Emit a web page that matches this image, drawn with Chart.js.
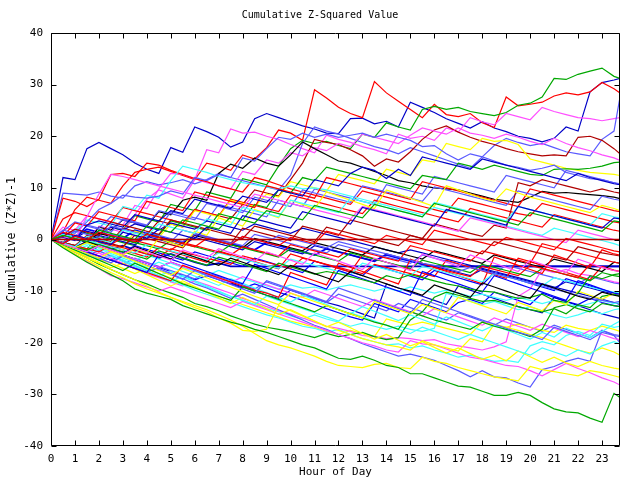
<!DOCTYPE html>
<html>
<head>
  <title>Cumulative Z-Squared Value</title>
  <script src="https://cdn.jsdelivr.net/npm/chart.js"></script>
  <style>body { margin: 0; background: #fff; }</style>
</head>
<body>
  <canvas id="chart" width="640" height="480"></canvas>

  <script>
    // Time of day (hours), read every half hour plus the last quarter
    const hours = [0,0.5,1,1.5,2,2.5,3,3.5,4,4.5,5,5.5,6,6.5,7,7.5,8,8.5,9,9.5,10,10.5,11,11.5,
      12,12.5,13,13.5,14,14.5,15,15.5,16,16.5,17,17.5,18,18.5,19,19.5,20,20.5,21,21.5,22,22.5,23,23.5,23.75];
    const xTicks = [0,1,2,3,4,5,6,7,8,9,10,11,12,13,14,15,16,17,18,19,20,21,22,23];
    const yTicks = [-40,-30,-20,-10,0,10,20,30,40];

    // Series (cumulative z*z-1 at each time)
    const topNavy = [0,12.0,11.6,17.6,18.8,17.6,16.4,14.8,13.6,12.8,17.8,16.9,21.8,20.9,19.8,17.9,18.9,23.4,24.4,23.6,22.8,22.0,21.4,20.6,20.5,23.4,23.5,22.4,22.9,21.8,26.6,25.6,24.6,23.4,22.5,21.6,22.8,21.6,20.9,20.0,19.6,18.9,19.6,21.8,21.0,28.6,30.4,30.9,31.2];
    const topRed = [0,1.5,5.8,8.2,7.6,7.0,10.4,13.0,13.6,14.0,13.2,12.4,11.6,14.8,14.2,13.4,16.4,15.6,17.8,21.2,20.6,19.2,29.0,27.4,25.6,24.4,23.6,30.6,28.4,26.8,25.2,23.6,26.2,24.2,23.8,24.4,22.6,21.7,27.6,25.9,26.2,26.6,27.8,28.4,28.0,28.6,30.4,29.2,28.4];
    const topGreen = [0,-0.6,1.8,1.2,0.6,2.4,1.8,4.6,4.0,3.4,6.8,6.2,5.6,9.2,8.6,8.0,11.8,11.2,10.6,14.2,17.6,19.2,18.6,19.0,18.2,17.6,20.4,19.8,22.6,21.8,21.2,25.2,25.8,25.2,25.6,24.8,24.4,24.0,24.6,26.0,26.4,27.6,31.2,31.0,32.0,32.6,33.2,31.6,31.2];
    const pinkHigh = [0,0.8,0.2,-0.4,2.6,2.0,1.4,4.8,7.8,9.6,8.8,8.0,11.6,17.4,16.8,21.4,20.6,20.8,20.0,19.4,18.4,17.6,16.8,20.2,19.4,18.8,18.0,17.4,16.6,20.4,19.6,20.0,19.2,21.6,20.8,23.6,22.8,22.2,24.4,23.8,23.2,25.6,24.8,24.2,23.6,23.4,23.0,23.4,23.6];
    const lateJumpBlue = [0,9.0,8.8,8.6,9.2,8.4,8.0,10.4,11.2,10.6,11.0,11.6,10.8,11.6,12.8,12.0,11.4,10.8,10.2,9.6,12.4,18.6,21.8,21.0,20.4,19.6,18.8,18.0,17.4,16.6,17.8,17.0,16.2,15.4,14.6,13.8,16.0,18.2,19.6,18.8,18.2,18.6,17.8,17.0,16.6,16.2,19.4,21.0,27.6];
    const maroonHigh = [0,-0.6,-1.2,0.8,0.2,-0.4,2.2,1.6,1.0,3.6,3.0,2.4,5.8,5.2,4.6,4.0,6.8,9.6,9.0,8.4,11.6,14.8,19.4,18.8,18.4,17.4,16.2,14.2,15.6,15.0,17.0,19.4,21.2,22.0,20.8,19.8,19.0,18.4,17.6,17.0,16.6,16.2,16.4,16.2,19.8,20.0,19.2,17.6,16.6];
    const blackHigh = [0,0.6,0.0,-0.6,2.4,1.8,3.8,3.2,2.6,5.4,4.8,7.6,8.2,7.6,12.8,14.6,13.8,15.8,14.8,14.2,16.4,18.9,17.6,16.4,15.2,14.8,14.0,13.2,12.4,11.4,11.0,10.4,10.0,9.8,9.6,9.0,8.4,7.8,7.5,7.2,8.2,9.3,9.0,9.1,8.9,8.7,8.5,8.2,7.9];
    const pinkUpper = [0,2.4,1.8,4.6,4.0,3.4,2.8,6.6,6.0,9.8,12.8,12.6,11.8,11.0,10.4,9.8,13.2,12.6,15.4,14.8,16.8,16.2,17.8,17.2,18.6,18.0,20.4,19.8,19.2,18.6,20.2,21.6,21.0,20.4,21.6,20.6,20.2,19.6,20.4,19.8,19.0,18.4,19.6,18.6,17.8,17.2,16.4,15.8,15.3];
    const yellowUpper = [0,-0.8,-1.4,-2.0,-0.4,-1.0,-1.6,1.6,1.0,0.4,3.0,2.4,5.6,5.0,4.4,7.6,7.0,6.4,8.8,8.2,11.2,10.6,10.0,9.4,12.6,12.0,11.4,10.8,13.6,13.0,12.4,15.4,15.0,18.6,18.0,17.4,19.6,19.0,19.2,18.4,15.6,15.0,14.4,13.8,13.4,13.0,12.8,12.6,12.4];
    const redEarly = [0,8.0,7.4,6.4,7.8,12.6,12.8,12.2,14.8,14.4,13.4,12.6,11.8,11.2,10.4,9.8,9.2,12.0,11.4,10.6,9.8,9.2,8.6,8.0,7.4,6.8,9.4,8.8,8.2,7.6,7.0,6.4,5.8,5.2,8.0,7.4,6.8,6.2,5.6,5.0,4.6,7.0,6.4,5.8,5.2,4.6,4.0,3.4,3.2];
    const redLow5 = [0,4.0,5.2,4.6,4.0,3.4,6.2,5.6,5.0,4.4,3.8,3.2,5.8,5.2,4.6,7.8,7.2,6.6,6.0,5.4,8.6,8.0,7.4,6.8,6.2,5.6,5.0,7.6,7.0,6.4,5.8,5.2,4.6,4.0,3.4,6.0,5.4,4.8,4.2,3.6,3.0,2.4,4.8,4.2,3.6,3.0,2.4,1.8,1.6];
    const lblueMid = [0,1.6,3.4,2.8,2.2,4.4,3.8,3.2,2.6,2.0,5.4,4.8,4.2,3.6,6.8,6.2,5.6,5.0,4.4,7.6,7.0,6.4,9.8,9.2,8.6,8.0,7.4,6.8,10.6,10.0,9.4,8.8,12.2,11.6,11.0,10.4,9.8,9.2,12.4,11.8,11.2,10.6,10.0,13.4,12.8,12.2,11.6,11.0,10.6];
    const cyanHigh = [0,-0.7,1.6,3.8,3.2,2.6,6.4,5.8,8.6,8.0,11.4,14.2,13.6,13.0,12.2,11.6,11.0,10.6,10.2,9.8,10.4,9.8,10.0,9.6,9.0,8.4,7.8,7.2,6.6,6.0,5.4,4.8,6.2,5.6,5.0,4.4,3.8,3.2,2.6,2.0,1.4,0.8,2.2,1.6,1.0,0.4,-0.2,-0.8,-1.2];
    const greenMid = [0,-0.6,-1.2,-1.8,0.6,0.0,-0.6,-1.2,1.4,0.8,3.6,3.0,2.4,1.8,5.0,4.4,3.8,6.8,6.2,9.6,9.0,12.0,11.4,14.0,13.4,12.8,12.2,11.6,11.0,10.4,9.8,12.4,12.0,11.6,14.8,14.2,13.6,14.4,13.8,13.2,12.6,12.4,13.6,13.7,13.6,13.8,14.2,14.9,15.0];

    const lowGreen = [0,-1.6,-3.0,-4.4,-5.6,-6.8,-8.0,-9.6,-10.4,-11.0,-11.6,-12.8,-13.6,-14.4,-15.2,-16.0,-16.6,-17.4,-18.0,-18.8,-19.6,-20.4,-21.0,-22.0,-23.0,-23.2,-22.6,-23.4,-24.4,-24.8,-26.0,-26.0,-26.8,-27.6,-28.4,-28.6,-29.4,-30.2,-30.2,-29.6,-30.2,-31.6,-32.8,-33.4,-33.6,-34.6,-35.4,-29.8,-30.6];
    const lowYellow = [0,-1.4,-2.8,-4.0,-5.2,-6.4,-7.4,-8.6,-9.6,-10.4,-11.2,-12.0,-12.8,-13.6,-14.6,-15.6,-16.8,-18.2,-19.6,-20.4,-21.0,-21.8,-22.6,-23.6,-24.4,-24.6,-24.8,-24.2,-24.0,-24.8,-25.0,-22.8,-23.6,-24.0,-24.8,-25.4,-26.0,-26.6,-27.0,-27.4,-24.6,-25.2,-25.6,-26.0,-26.4,-25.4,-25.8,-26.4,-26.7];
    const yellowJump = [0,-1.2,-2.4,-3.6,-4.6,-5.8,-6.8,-7.8,-9.0,-10.2,-11.2,-12.2,-13.2,-14.0,-15.2,-16.2,-17.6,-17.8,-17.4,-12.8,-13.8,-14.8,-15.8,-16.8,-17.6,-18.4,-19.2,-19.8,-20.4,-20.8,-21.4,-19.6,-20.4,-21.0,-21.6,-19.2,-19.8,-16.4,-17.0,-17.6,-18.4,-19.0,-19.8,-20.6,-21.4,-22.0,-21.0,-21.8,-22.4];
    const lowPink = [0,-1.4,-2.8,-4.2,-5.6,-7.0,-7.6,-8.4,-9.2,-10.0,-9.2,-10.0,-10.8,-11.6,-12.4,-13.2,-12.0,-12.8,-13.6,-14.4,-15.2,-16.0,-16.8,-17.6,-18.4,-19.2,-20.0,-20.6,-21.4,-21.8,-19.6,-20.2,-20.4,-21.2,-22.0,-22.8,-23.2,-23.8,-24.4,-24.6,-25.4,-26.4,-25.2,-24.0,-25.0,-25.8,-26.8,-27.6,-28.2];
    const lowLblue = [0,-1.0,-2.0,-3.0,-2.2,-3.2,-4.2,-5.2,-6.2,-5.6,-6.6,-7.6,-8.6,-9.4,-10.4,-11.4,-10.6,-11.6,-12.6,-13.6,-14.6,-15.6,-16.6,-17.4,-18.4,-19.2,-20.2,-21.0,-21.8,-22.6,-22.2,-22.8,-23.4,-24.4,-25.4,-26.6,-25.4,-26.6,-26.8,-27.8,-28.6,-25.2,-24.6,-23.6,-23.0,-23.6,-17.6,-18.6,-20.0];
    const greenJump = [0,-1.2,-2.4,-3.6,-4.8,-5.8,-6.8,-7.8,-8.6,-9.6,-10.4,-11.2,-12.4,-13.0,-13.8,-14.8,-15.6,-16.4,-17.0,-17.4,-17.8,-18.4,-19.0,-18.2,-18.8,-18.4,-18.0,-18.8,-19.4,-19.0,-15.6,-14.0,-11.2,-10.2,-10.8,-11.4,-12.0,-11.8,-12.4,-13.0,-13.6,-14.0,-13.4,-14.4,-12.6,-13.2,-11.0,-10.6,-11.0];
    const lblueLow = [0,-1.0,-2.0,-1.2,-2.2,-3.2,-4.0,-5.0,-6.0,-7.0,-8.0,-8.8,-9.8,-10.6,-11.4,-12.2,-13.0,-13.8,-14.6,-15.2,-16.0,-16.8,-17.2,-18.0,-17.4,-18.4,-19.2,-19.8,-20.4,-20.2,-21.0,-20.6,-21.4,-22.0,-22.8,-22.4,-23.0,-23.6,-23.4,-23.8,-20.6,-19.8,-20.4,-18.6,-17.8,-18.6,-16.4,-17.0,-16.8];
    const pinkJump = [0,-1.2,-2.4,-3.4,-2.6,-3.6,-4.6,-5.6,-6.6,-7.4,-8.2,-9.0,-8.0,-8.8,-9.6,-10.4,-11.4,-12.2,-13.0,-13.8,-14.4,-15.2,-16.0,-16.8,-17.2,-17.8,-18.6,-18.8,-19.2,-19.0,-19.2,-19.6,-19.4,-20.2,-20.6,-21.0,-21.4,-20.8,-19.8,-11.0,-9.6,-5.8,-6.4,-5.8,-6.6,-7.0,-7.6,-8.2,-8.4];
    const cyanJump = [0,-1.0,-1.8,-2.8,-3.8,-3.0,-4.0,-5.0,-6.0,-7.0,-6.2,-7.2,-8.2,-9.2,-10.2,-11.0,-11.8,-12.6,-13.4,-14.0,-14.8,-15.4,-14.6,-15.4,-16.0,-16.8,-16.2,-16.8,-17.4,-16.8,-17.4,-17.8,-17.2,-10.4,-11.2,-12.0,-12.6,-12.0,-12.8,-13.6,-13.0,-13.8,-14.6,-15.2,-14.6,-13.8,-14.4,-13.6,-13.4];
    const cyanMid = [0,-0.8,-1.6,-0.8,-1.6,-2.4,-3.2,-4.0,-3.0,-3.8,-4.6,-5.4,-6.2,-7.0,-6.0,-6.8,-7.6,-8.2,-9.0,-9.6,-8.8,-9.4,-9.2,-9.8,-9.2,-8.8,-9.4,-10.0,-9.4,-10.0,-9.2,-9.8,-10.4,-9.8,-10.4,-11.0,-10.6,-11.2,-11.8,-11.2,-11.8,-12.4,-11.8,-12.4,-13.0,-12.4,-11.8,-12.4,-12.2];
    const yellowMid = [0,-0.8,-1.8,-2.8,-3.8,-4.6,-5.6,-6.6,-5.6,-6.6,-7.4,-8.4,-9.2,-10.2,-11.0,-11.8,-12.6,-13.4,-14.2,-15.0,-15.8,-16.4,-17.0,-17.8,-18.4,-17.6,-18.2,-18.8,-15.4,-16.0,-16.6,-16.0,-16.6,-17.2,-17.8,-18.4,-16.0,-16.6,-17.0,-16.4,-17.0,-17.6,-18.0,-16.6,-17.2,-17.6,-16.8,-17.4,-17.8];
    const navyLow = [0,-0.8,-1.6,-2.4,-1.4,-2.2,-3.0,-3.8,-4.6,-5.4,-4.4,-5.2,-6.0,-6.8,-7.6,-8.4,-9.2,-10.0,-10.8,-11.4,-9.8,-10.6,-11.4,-12.2,-12.8,-13.6,-14.4,-15.2,-8.6,-9.4,-10.2,-11.0,-11.8,-12.6,-9.0,-9.8,-10.6,-11.4,-12.2,-13.0,-13.6,-14.2,-11.2,-12.0,-12.8,-13.6,-14.4,-15.0,-15.3];
    const navyZig = [0,-0.8,-1.6,-2.4,-3.2,-4.0,-3.0,-3.8,-4.6,-5.4,-6.2,-7.0,-7.8,-7.0,-7.8,-8.6,-9.4,-8.6,-9.4,-10.2,-11.0,-11.8,-12.6,-13.4,-14.2,-15.0,-15.6,-12.4,-13.2,-14.0,-11.6,-12.4,-13.2,-14.0,-12.2,-11.6,-12.4,-10.2,-11.0,-11.8,-12.6,-10.4,-11.2,-12.0,-12.6,-11.4,-12.2,-12.8,-13.0];

    const zeroLine = [0,0,0,0,0,0,0,0,0,0,0,0,0,0,0,0,0,0,0,0,0,0,0,0,0,0,0,0,0,0,0,0,0,0,0,0,0,0,0,0,0,0,0,0,0,0,0,0,0];
    const flatBlueA = [0,-0.8,0.6,-0.2,-1.0,-1.8,-1.2,-2.0,-2.8,-3.6,-2.8,-3.6,-4.4,-5.0,-4.6,-5.2,-5.2,-5.2,-5.2,-5.2,-5.2,-5.2,-5.2,-5.2,-5.2,-5.2,-5.2,-5.2,-5.2,-5.2,-5.2,-5.2,-5.2,-5.2,-5.2,-5.2,-5.2,-5.2,-5.2,-5.2,-5.2,-5.2,-5.2,-5.2,-5.2,-5.2,-5.2,-5.2,-5.2];
    const flatBlueB = [0,1.2,0.6,2.0,1.4,0.8,0.2,1.8,1.2,0.6,0.0,-0.6,1.0,0.4,-0.2,-0.8,-1.4,-2.0,-0.6,-1.2,-1.8,-2.4,-3.0,-1.8,-2.4,-3.0,-3.6,-4.2,-3.0,-3.6,-4.2,-4.8,-5.2,-5.2,-5.2,-5.2,-5.2,-5.2,-5.2,-5.2,-5.2,-5.2,-5.2,-5.2,-5.2,-5.2,-5.2,-5.2,-5.2];
    const blueSlide = [0,0.8,0.2,1.6,1.0,2.4,1.8,3.0,2.4,1.8,3.2,2.6,2.0,3.6,3.0,2.4,1.8,3.0,2.4,1.8,1.2,2.2,1.6,1.0,0.4,-0.2,-0.8,-1.4,-2.0,-2.6,-2.0,-2.6,-3.2,-3.8,-4.4,-5.0,-5.6,-6.2,-6.8,-7.4,-8.0,-8.6,-9.2,-9.8,-10.4,-11.0,-11.6,-12.2,-12.6];
    const lblueSlide = [0,-0.6,0.8,0.2,-0.4,1.0,0.4,-0.2,1.4,0.8,0.2,-0.4,1.0,0.4,-0.2,-0.8,0.6,0.0,-0.6,0.8,0.2,-0.4,-1.0,-1.6,-0.4,-1.0,-1.6,-2.2,-2.8,-3.4,-4.0,-4.6,-5.0,-5.6,-6.2,-5.4,-6.0,-6.6,-7.2,-7.8,-8.4,-9.0,-9.6,-10.2,-10.8,-11.4,-11.8,-12.2,-12.0];
    const redMidA = [0,-0.8,0.6,0.0,1.4,0.8,0.2,-0.4,1.0,0.4,-0.2,-0.8,-1.4,0.2,-0.4,-1.0,0.6,0.0,-0.6,-1.2,0.4,-0.2,-0.8,1.6,1.0,0.4,-0.2,-0.8,0.8,0.2,-0.4,-1.0,1.8,1.2,0.6,0.0,-0.6,-1.2,0.4,-0.2,-0.8,-1.4,-2.0,0.2,-0.4,-1.0,-1.6,-2.2,-2.4];
    const redMidB = [0,1.4,0.8,0.2,-0.4,-1.0,0.4,-0.2,-0.8,-1.4,-2.0,-0.6,-1.2,-1.8,-2.4,-3.0,-1.4,-2.0,-2.6,-3.2,-1.0,-1.6,-2.2,-2.8,-3.4,-1.8,-2.4,-3.0,-3.6,-4.2,-1.2,-1.8,-2.4,-3.0,-3.6,-4.2,-2.2,-2.8,-3.4,-4.0,-4.6,-0.8,-1.4,-2.0,-2.6,-3.2,-3.8,-4.4,-4.6];
    const maroonMid = [0,0.6,2.0,1.4,0.8,3.4,2.8,2.2,1.6,1.0,3.8,3.2,2.6,2.0,1.4,0.8,0.2,2.6,2.0,1.4,0.8,0.2,-0.4,2.4,1.8,1.2,0.6,0.0,-0.6,-1.2,0.8,0.2,-0.4,-1.0,-1.6,-2.2,-2.8,-0.4,-1.0,-1.6,-2.2,-2.8,-3.4,-4.0,-1.4,-2.0,-2.6,-3.0,-3.2];
    const maroonJump = [0,-0.6,-1.2,0.4,-0.2,-0.8,-1.4,0.8,0.2,-0.4,-1.0,-1.6,1.0,0.4,-0.2,-0.8,2.2,1.6,1.0,0.4,-0.2,2.6,2.0,1.4,0.8,3.8,3.2,2.6,2.0,1.4,0.8,0.2,3.0,2.4,1.8,1.2,0.6,2.8,2.2,11.0,10.4,11.6,11.0,10.4,9.8,9.2,9.8,9.2,9.0];
    const blackLow = [0,-0.8,-1.6,-0.4,-1.2,-2.0,-2.8,-1.4,-2.2,-3.0,-3.8,-2.6,-3.4,-4.2,-5.0,-3.6,-4.4,-5.2,-6.0,-6.8,-5.0,-5.8,-6.6,-7.4,-8.2,-6.2,-7.0,-7.8,-8.6,-9.4,-10.0,-10.8,-8.8,-9.6,-10.4,-11.2,-8.4,-9.2,-10.0,-10.8,-11.4,-8.6,-9.4,-10.2,-11.0,-11.6,-10.2,-10.8,-11.0];
    const greenLowMid = [0,-0.7,-1.4,-2.1,-1.0,-1.7,-2.4,-3.1,-3.8,-2.2,-2.9,-3.6,-4.3,-5.0,-3.4,-4.1,-4.8,-5.5,-6.2,-4.6,-5.3,-6.0,-6.7,-6.2,-6.6,-7.2,-7.8,-8.4,-7.0,-7.6,-6.8,-7.4,-8.0,-8.6,-9.0,-9.6,-10.0,-10.2,-10.8,-11.4,-11.2,-10.6,-11.8,-12.2,-10.4,-7.0,-7.6,-6.8,-6.6];
    const pinkMid = [0,-0.8,-1.6,-2.4,-1.2,-2.0,-2.8,-1.6,-2.4,-3.2,-4.0,-2.0,-2.8,-3.6,-1.8,-2.6,-3.4,-4.2,-2.4,-3.2,-4.0,-4.8,-2.6,-3.4,-4.2,-5.0,-5.8,-3.6,-4.4,-5.2,-6.0,-2.8,-3.6,-4.4,-5.2,-3.0,-3.8,-4.6,-5.4,-6.2,-4.0,-4.8,-5.6,-6.4,-3.8,-4.6,-5.4,-6.0,-6.2];
    const cyanLowMid = [0,1.0,0.4,-0.2,-0.8,-1.4,-2.0,-2.6,-1.0,-1.6,-2.2,-2.8,-3.4,-4.0,-2.6,-3.2,-3.8,-4.4,-5.0,-5.6,-3.8,-4.4,-5.0,-5.6,-6.2,-6.8,-4.6,-5.2,-5.8,-6.4,-7.0,-5.2,-5.8,-6.4,-7.0,-7.6,-8.2,-6.6,-7.2,-7.8,-8.4,-9.0,-7.4,-8.0,-8.6,-9.2,-9.8,-10.2,-10.4];
    const lblueUpper = [0,1.8,1.2,3.4,5.8,7.0,8.6,8.2,8.0,8.4,9.4,8.8,12.0,11.4,12.6,12.0,15.8,15.2,17.6,19.8,19.4,20.6,19.8,20.4,19.8,20.2,20.6,19.8,20.4,19.8,19.2,18.0,18.2,16.6,15.4,16.6,16.0,15.2,14.4,14.0,13.4,13.8,14.4,13.0,12.4,11.8,11.6,11.0,10.8];
    const navyUpper = [0,0.4,-0.2,2.8,3.6,3.0,2.4,4.8,4.2,3.6,5.6,5.0,7.8,7.2,6.6,6.0,8.4,7.8,7.2,9.6,9.0,8.4,11.6,11.0,10.4,12.8,14.0,13.4,11.8,13.6,12.4,16.0,15.4,14.8,14.2,13.6,15.6,15.0,14.4,13.8,13.2,12.6,12.0,11.4,12.8,12.0,11.4,10.8,10.6];
    const blueMid = [0,-0.8,0.8,0.2,-0.4,-1.0,1.4,0.8,0.2,2.0,1.4,0.8,0.2,2.4,1.8,1.2,4.6,4.0,3.4,2.8,2.2,5.4,4.8,4.2,3.6,3.0,6.2,5.6,5.0,4.4,3.8,3.2,2.6,5.8,5.2,4.6,4.0,3.4,2.8,6.4,5.8,5.2,4.6,4.0,3.4,2.8,2.2,4.2,4.0];
    const redLowMid = [0,-0.6,-1.2,-1.8,-2.4,-1.0,-1.6,-2.2,-2.8,-3.4,-1.8,-2.4,-3.0,-3.6,-4.2,-4.8,-3.2,-3.8,-4.4,-5.0,-5.6,-3.6,-4.2,-4.8,-5.4,-6.0,-6.6,-4.8,-5.4,-6.0,-6.6,-7.2,-5.4,-6.0,-6.6,-7.2,-5.2,-5.8,-6.4,-7.0,-5.0,-5.6,-6.2,-6.8,-7.4,-4.8,-5.4,-6.0,-6.2];
    const greenUpper = [0,0.8,0.2,-0.4,1.8,1.2,0.6,0.0,2.6,2.0,1.4,3.8,3.2,2.6,2.0,4.4,3.8,3.2,5.6,5.0,4.4,3.8,6.6,6.0,5.4,4.8,4.2,6.8,6.2,5.6,5.0,4.4,7.0,6.4,5.8,5.2,4.6,4.0,3.4,2.8,5.2,4.6,4.0,3.4,2.8,2.2,1.6,3.6,3.4];
    const yellowUpMid = [0,-0.8,-1.6,-0.6,-1.4,-2.2,-3.0,-1.8,-2.6,0.2,-0.6,-1.4,1.6,0.8,4.2,3.4,2.6,5.8,5.0,4.2,7.6,6.8,6.0,9.2,8.4,7.6,6.8,6.0,9.6,8.8,8.0,7.2,6.4,10.4,9.6,8.8,8.0,7.4,9.8,9.0,8.2,7.6,7.0,6.4,5.8,5.2,6.6,6.0,5.6];
    const yellowLowMid = [0,-0.9,-1.8,-2.7,-3.6,-2.4,-3.3,-4.2,-5.1,-6.0,-6.9,-5.6,-6.5,-7.4,-8.3,-9.2,-10.1,-11.0,-11.8,-12.6,-10.4,-11.2,-12.0,-12.8,-13.6,-14.4,-15.2,-12.0,-12.8,-13.6,-14.4,-12.6,-13.4,-14.2,-11.2,-12.0,-12.8,-13.6,-14.4,-12.2,-13.0,-13.8,-11.8,-12.6,-10.0,-10.8,-11.6,-10.4,-10.6];
    const pinkEarly = [0,0.6,0.0,4.4,8.8,12.6,12.2,11.6,11.0,10.4,9.8,9.2,8.6,8.0,7.4,6.8,6.2,8.8,8.2,7.6,7.0,6.4,5.8,5.2,4.6,4.0,6.4,5.8,5.2,4.6,4.0,3.4,2.8,2.2,1.6,4.2,3.6,3.0,2.4,1.8,1.2,0.6,0.0,-0.6,1.8,1.2,0.6,0.0,-0.2];
    const cyanUpMid = [0,-0.7,-1.4,0.6,0.0,-0.6,1.8,1.2,0.6,3.0,2.4,1.8,1.2,4.0,3.4,2.8,6.2,5.6,5.0,4.4,7.6,7.0,6.4,5.8,5.2,8.0,7.4,6.8,6.2,5.6,5.0,4.4,7.2,6.6,6.0,5.4,4.8,4.2,3.6,6.4,5.8,5.2,4.6,4.0,3.4,2.8,5.0,4.4,4.2];
    const navyMidLow = [0,-0.8,-1.6,-2.4,-3.2,-4.0,-4.8,-5.6,-6.4,-3.0,-3.8,-4.6,-5.4,-6.2,-7.0,-7.8,-8.6,-4.8,-5.6,-6.4,-7.2,-8.0,-8.8,-9.6,-6.0,-6.8,-7.6,-8.4,-9.2,-10.0,-10.8,-6.2,-7.0,-7.8,-8.6,-9.4,-10.2,-7.0,-7.8,-8.6,-9.4,-10.2,-11.0,-11.8,-8.0,-8.8,-9.6,-10.4,-10.6];
    const lblueLowMid = [0,-0.9,-1.8,-2.7,-3.6,-4.5,-3.2,-4.1,-5.0,-5.9,-6.8,-7.7,-6.0,-6.9,-7.8,-8.7,-9.6,-10.4,-8.0,-8.8,-9.6,-10.4,-11.2,-12.0,-9.4,-10.2,-11.0,-11.8,-12.6,-13.4,-14.2,-11.6,-12.4,-13.2,-14.0,-14.8,-15.6,-16.4,-17.2,-18.0,-18.6,-19.4,-17.0,-17.8,-18.6,-19.4,-18.0,-18.6,-18.8];
    const redSaw = [0,-0.8,-1.6,-2.4,-3.2,-4.0,-4.8,-5.6,-6.4,-7.2,-8.0,-5.0,-5.8,-6.6,-7.4,-8.2,-9.0,-9.8,-10.4,-11.2,-6.4,-7.2,-8.0,-8.8,-4.6,-5.4,-6.2,-7.0,-7.8,-8.6,-3.8,-4.6,-5.4,-6.2,-7.0,-7.8,-8.6,-3.4,-4.2,-5.0,-5.8,-6.6,-3.0,-3.8,-4.6,-5.4,-2.0,-2.8,-3.0];
    const greenLow = [0,-1.0,-2.0,-3.0,-4.0,-5.0,-6.0,-4.6,-5.6,-6.6,-7.6,-8.6,-9.4,-10.2,-11.0,-11.8,-9.2,-10.0,-10.8,-11.6,-12.4,-13.2,-14.0,-12.8,-13.6,-14.4,-15.2,-16.0,-16.6,-17.4,-14.0,-14.8,-15.6,-16.2,-16.8,-17.4,-16.0,-16.8,-17.4,-18.0,-18.8,-17.4,-13.2,-12.6,-13.4,-14.0,-12.4,-12.8,-13.0];

    const navySlide = [0,0.6,0.0,-0.6,0.8,0.2,-0.4,-1.0,0.6,0.0,-0.6,-1.2,0.4,-0.2,-0.8,-1.4,-2.0,-0.4,-1.0,-1.6,-2.2,-2.8,-1.2,-1.8,-2.4,-3.0,-3.6,-4.2,-2.8,-3.4,-4.0,-4.6,-5.2,-5.8,-6.4,-7.0,-5.8,-6.4,-7.0,-7.6,-8.2,-8.8,-9.4,-8.2,-8.8,-9.4,-10.0,-10.6,-10.8];
    const blueSaw = [0,-0.7,-1.4,-0.4,-1.1,-1.8,-2.5,-1.2,-1.9,-2.6,-3.3,-4.0,-2.4,-3.1,-3.8,-4.5,-5.2,-3.6,-4.3,-5.0,-5.7,-6.4,-4.2,-4.9,-5.6,-6.3,-7.0,-5.0,-5.7,-6.4,-7.1,-7.8,-6.0,-6.7,-7.4,-8.1,-8.8,-6.4,-7.1,-7.8,-8.5,-9.2,-9.9,-7.6,-8.3,-9.0,-9.7,-10.4,-10.6];
    const lblueDrift = [0,0.8,1.6,1.0,0.4,2.6,2.0,1.4,0.8,0.2,-0.4,1.8,1.2,0.6,0.0,-0.6,-1.2,1.0,0.4,-0.2,-0.8,-1.4,-2.0,-2.6,-1.0,-1.6,-2.2,-2.8,-3.4,-4.0,-4.6,-3.0,-3.6,-4.2,-4.8,-5.4,-6.0,-6.6,-5.0,-5.6,-6.2,-6.8,-7.4,-8.0,-8.6,-7.2,-7.8,-8.4,-8.6];
    const redSawB = [0,-0.7,-1.4,-2.1,-0.6,-1.3,-2.0,-2.7,-3.4,-1.6,-2.3,-3.0,-3.7,-4.4,-2.2,-2.9,-3.6,-4.3,-5.0,-5.7,-2.8,-3.5,-4.2,-4.9,-5.6,-6.3,-3.0,-3.7,-4.4,-5.1,-5.8,-6.5,-7.2,-4.0,-4.7,-5.4,-6.1,-6.8,-7.5,-3.6,-4.3,-5.0,-5.7,-6.4,-7.1,-7.8,-5.2,-5.9,-6.2];
    const redUpper = [0,0.6,3.2,2.6,5.4,4.8,4.2,3.6,7.4,6.8,6.2,5.6,9.2,8.6,8.0,7.4,6.8,6.2,10.4,9.8,9.2,8.6,8.0,12.0,11.4,10.8,10.2,9.6,9.0,8.4,7.8,11.2,10.6,10.0,9.4,8.8,8.2,7.6,7.0,6.4,9.8,9.2,8.6,8.0,7.4,6.8,6.2,5.6,5.4];
    const cyanLow = [0,-1.0,-2.0,-3.0,-4.0,-3.2,-4.2,-5.2,-6.2,-7.2,-8.2,-7.0,-8.0,-9.0,-10.0,-11.0,-11.8,-12.6,-11.0,-11.8,-12.6,-13.4,-14.2,-15.0,-15.8,-14.2,-15.0,-15.8,-16.6,-17.4,-18.2,-17.0,-17.8,-18.6,-19.4,-18.4,-19.2,-20.0,-20.8,-21.6,-22.4,-21.0,-21.8,-22.6,-21.4,-22.2,-20.6,-19.8,-20.2];
    const cyanLowB = [0,-0.9,-1.8,-2.7,-1.8,-2.7,-3.6,-4.5,-5.4,-4.4,-5.3,-6.2,-7.1,-8.0,-8.9,-7.6,-8.5,-9.4,-10.3,-11.2,-12.1,-10.8,-11.7,-12.6,-13.5,-14.4,-13.0,-13.9,-14.8,-15.7,-14.6,-15.5,-16.4,-15.0,-15.9,-16.8,-17.7,-16.6,-17.5,-18.4,-19.3,-18.0,-18.9,-17.2,-18.1,-19.0,-17.8,-16.4,-15.8];
    const yellowLow = [0,-1.1,-2.2,-3.3,-4.4,-5.5,-4.6,-5.7,-6.8,-7.9,-9.0,-8.0,-9.1,-10.2,-11.3,-12.4,-11.2,-12.3,-13.4,-14.5,-13.6,-14.7,-15.8,-16.9,-16.0,-17.1,-18.2,-19.3,-18.4,-19.5,-20.6,-19.8,-20.9,-22.0,-21.0,-22.1,-23.2,-22.4,-23.5,-21.6,-22.7,-23.8,-22.8,-23.9,-24.6,-23.6,-24.4,-24.9,-25.1];
    const pinkLowMid = [0,-0.8,-1.6,-2.4,-3.2,-2.2,-3.0,-3.8,-4.6,-5.4,-4.4,-5.2,-6.0,-6.8,-7.6,-8.4,-7.2,-8.0,-8.8,-9.6,-10.4,-11.2,-9.8,-10.6,-11.4,-12.2,-13.0,-11.6,-12.4,-13.2,-14.0,-14.8,-13.4,-14.2,-15.0,-15.8,-16.6,-15.2,-16.0,-16.8,-17.6,-16.4,-17.2,-18.0,-18.8,-17.6,-18.4,-19.2,-19.4];
    const greenDrift = [0,0.8,0.2,-0.4,-1.0,0.6,0.0,-0.6,-1.2,-1.8,-0.2,-0.8,-1.4,-2.0,-2.6,-1.0,-1.6,-2.2,-2.8,-3.4,-1.8,-2.4,-3.0,-3.6,-4.2,-2.6,-3.2,-3.8,-4.4,-5.0,-5.6,-4.0,-4.6,-5.2,-5.8,-6.4,-4.8,-5.4,-6.0,-6.6,-7.2,-5.6,-6.2,-6.8,-7.4,-8.0,-6.4,-7.0,-7.2];
    const lblueUpMid = [0,1.0,0.4,2.6,2.0,1.4,4.0,3.4,2.8,5.6,5.0,4.4,3.8,7.0,6.4,5.8,5.2,8.2,7.6,7.0,6.4,9.6,9.0,8.4,7.8,7.2,10.4,9.8,9.2,8.6,8.0,7.4,10.2,9.6,9.0,8.4,7.8,7.2,6.6,9.4,8.8,8.2,7.6,7.0,6.4,5.8,8.4,7.8,7.6];
    const blackMid = [0,0.8,0.2,-0.4,1.2,0.6,0.0,-0.6,1.0,0.4,-0.2,-0.8,0.8,0.2,-0.4,-1.0,-1.6,0.2,-0.4,-1.0,-1.6,-2.2,-0.6,-1.2,-1.8,-2.4,-3.0,-1.4,-2.0,-2.6,-3.2,-3.8,-2.2,-2.8,-3.4,-4.0,-4.6,-3.0,-3.6,-4.2,-4.8,-5.4,-3.8,-4.4,-5.0,-5.6,-6.2,-4.4,-4.6];
    const navyDeep = [0,-0.8,-1.6,-2.4,-3.2,-4.0,-4.8,-3.6,-4.4,-5.2,-6.0,-6.8,-7.6,-6.4,-7.2,-8.0,-8.8,-9.6,-8.2,-9.0,-9.8,-10.6,-11.4,-12.2,-10.6,-11.4,-12.2,-13.0,-13.8,-12.4,-13.2,-14.0,-14.8,-15.6,-14.2,-15.0,-15.8,-16.6,-15.4,-16.2,-17.0,-17.8,-16.6,-17.4,-18.2,-19.0,-17.6,-18.4,-18.6];

    // Line colours of the old bitmap plotter
    const palette = {
      red: '#ff0000', green: '#00a800', navy: '#0000c8', blue: '#0000ff', lblue: '#5a5aff',
      magenta: '#ff50ff', cyan: '#40ffff', yellow: '#ffff00', black: '#000000', dred: '#b00000'
    };

    const series = [
      { values: zeroLine, color: 'dred', width: 1.6 },
      { values: redMidA, color: 'red' },
      { values: greenUpper, color: 'green' },
      { values: blueMid, color: 'navy' },
      { values: pinkMid, color: 'magenta' },
      { values: cyanUpMid, color: 'cyan' },
      { values: yellowUpMid, color: 'yellow' },
      { values: blackLow, color: 'black' },
      { values: maroonMid, color: 'dred' },
      { values: lblueSlide, color: 'lblue' },
      { values: redMidB, color: 'red' },
      { values: greenLowMid, color: 'green' },
      { values: navyMidLow, color: 'blue' },
      { values: cyanLowMid, color: 'cyan' },
      { values: yellowLowMid, color: 'yellow' },
      { values: pinkEarly, color: 'magenta' },
      { values: maroonJump, color: 'dred' },
      { values: lblueLowMid, color: 'lblue' },
      { values: redLowMid, color: 'red' },
      { values: greenLow, color: 'green' },
      { values: navyUpper, color: 'navy' },
      { values: lblueUpper, color: 'lblue' },
      { values: redSaw, color: 'red' },
      { values: greenDrift, color: 'green' },
      { values: blackMid, color: 'black' },
      { values: lblueUpMid, color: 'lblue' },
      { values: redUpper, color: 'red' },
      { values: cyanLow, color: 'cyan' },
      { values: cyanLowB, color: 'cyan' },
      { values: yellowLow, color: 'yellow' },
      { values: pinkLowMid, color: 'magenta' },
      { values: lowGreen, color: 'green' },
      { values: lowYellow, color: 'yellow' },
      { values: yellowJump, color: 'yellow' },
      { values: lowPink, color: 'magenta' },
      { values: lowLblue, color: 'lblue' },
      { values: greenJump, color: 'green' },
      { values: lblueLow, color: 'cyan' },
      { values: pinkJump, color: 'magenta' },
      { values: cyanJump, color: 'cyan' },
      { values: cyanMid, color: 'cyan' },
      { values: yellowMid, color: 'yellow' },
      { values: navyDeep, color: 'lblue' },
      { values: navyLow, color: 'navy' },
      { values: navyZig, color: 'blue' },
      { values: redSawB, color: 'red' },
      { values: lblueDrift, color: 'lblue' },
      { values: navySlide, color: 'navy' },
      { values: blueSaw, color: 'blue' },
      { values: blueSlide, color: 'navy' },
      { values: cyanHigh, color: 'cyan' },
      { values: greenMid, color: 'green' },
      { values: yellowUpper, color: 'yellow' },
      { values: redEarly, color: 'red' },
      { values: redLow5, color: 'red' },
      { values: lblueMid, color: 'lblue' },
      { values: blackHigh, color: 'black' },
      { values: pinkUpper, color: 'magenta' },
      { values: maroonHigh, color: 'dred' },
      { values: lateJumpBlue, color: 'lblue' },
      { values: pinkHigh, color: 'magenta' },
      { values: topGreen, color: 'green' },
      { values: topRed, color: 'red' },
      { values: topNavy, color: 'navy' },
      { values: flatBlueA, color: 'navy', width: 1.8 },
      { values: flatBlueB, color: 'blue', width: 1.8 }
    ];

    const mono = "'DejaVu Sans Mono', monospace";

    // box round the plot with inward tick marks on all four sides
    const frame = {
      id: 'frame',
      afterDatasetsDraw(chart) {
        const { ctx, chartArea: a, scales } = chart;
        const L = Math.round(a.left) + 0.5, R = Math.round(a.right) - 0.5;
        const T = Math.round(a.top) + 0.5, B = Math.round(a.bottom) - 0.5;
        ctx.save();
        ctx.strokeStyle = '#000';
        ctx.lineWidth = 1;
        ctx.beginPath();
        ctx.rect(L, T, R - L, B - T);
        xTicks.forEach(v => {
          const px = Math.round(scales.x.getPixelForValue(v)) + 0.5;
          ctx.moveTo(px, B); ctx.lineTo(px, B - 5);
          ctx.moveTo(px, T); ctx.lineTo(px, T + 5);
        });
        yTicks.forEach(v => {
          const py = Math.round(scales.y.getPixelForValue(v)) + 0.5;
          ctx.moveTo(L, py); ctx.lineTo(L + 5, py);
          ctx.moveTo(R, py); ctx.lineTo(R - 5, py);
        });
        ctx.stroke();
        ctx.restore();
      }
    };

    new Chart(document.getElementById('chart').getContext('2d'), {
      type: 'line',
      data: {
        datasets: series.map(s => ({
          data: s.values.map((v, i) => ({ x: hours[i], y: v })),
          borderColor: palette[s.color],
          borderWidth: s.width || 1.2,
          pointRadius: 0,
          tension: 0,
          fill: false
        }))
      },
      options: {
        responsive: false,
        animation: false,
        events: [],
        layout: { padding: 0 },
        plugins: {
          legend: { display: false },
          tooltip: { enabled: false },
          title: {
            display: true,
            text: 'Cumulative Z-Squared Value',
            color: '#000',
            font: { family: mono, size: 10, weight: 'normal' },
            padding: { top: 9, bottom: 12 }
          }
        },
        scales: {
          x: {
            type: 'linear',
            min: 0,
            max: 23.75,
            afterBuildTicks(s) { s.ticks = xTicks.map(v => ({ value: v })); },
            afterFit(s) { s.height = 34; },
            grid: { display: false, drawTicks: false },
            border: { display: false },
            ticks: { color: '#000', padding: 7, maxRotation: 0, autoSkip: false, font: { family: mono, size: 11 } },
            title: { display: true, text: 'Hour of Day', color: '#000', font: { family: mono, size: 11 }, padding: { top: 0, bottom: 1 } }
          },
          y: {
            min: -40,
            max: 40,
            afterBuildTicks(s) { s.ticks = yTicks.map(v => ({ value: v })); },
            afterFit(s) { s.width = 51; },
            grid: { display: false, drawTicks: false },
            border: { display: false },
            ticks: { color: '#000', padding: 8, font: { family: mono, size: 11 } },
            title: { display: true, text: 'Cumulative (Z*Z)-1', color: '#000', font: { family: mono, size: 11.5 }, padding: { top: 5, bottom: 0 } }
          },
          // empty margin on the right so the title sits over the page centre
          yRight: {
            position: 'right',
            min: -40,
            max: 40,
            afterFit(s) { s.width = 20; },
            grid: { display: false, drawTicks: false },
            border: { display: false },
            ticks: { display: false }
          }
        }
      },
      plugins: [frame]
    });
  </script>
</body>
</html>
